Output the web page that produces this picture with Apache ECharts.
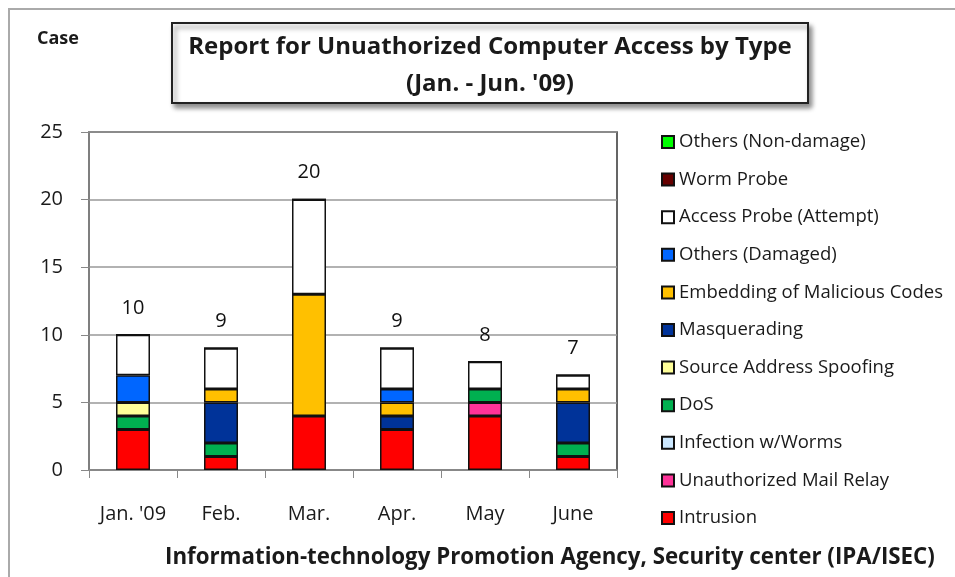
<!DOCTYPE html>
<html><head><meta charset="utf-8">
<script src="https://cdn.jsdelivr.net/npm/echarts@6/dist/echarts.min.js"></script>
<style>html,body{margin:0;padding:0;background:#fff}#c{width:955px;height:577px}</style>
</head><body><div id="c"></div>
<script>
const categories = ["Jan. '09", "Feb.", "Mar.", "Apr.", "May", "June"];
const yTicks = [0, 5, 10, 15, 20, 25];
// Stacking order bottom -> top
const intrusion        = [3, 1, 4, 3, 4, 1];
const mailRelay        = [0, 0, 0, 0, 1, 0];
const infectionWorms   = [0, 0, 0, 0, 0, 0];
const dos              = [1, 1, 0, 0, 1, 1];
const spoofing         = [1, 0, 0, 0, 0, 0];
const masquerading     = [0, 3, 0, 1, 0, 3];
const embedding        = [0, 1, 9, 1, 0, 1];
const othersDamaged    = [2, 0, 0, 1, 0, 0];
const accessProbe      = [3, 3, 7, 3, 2, 1];
const wormProbe        = [0, 0, 0, 0, 0, 0];
const othersNonDamage  = [0, 0, 0, 0, 0, 0];

const seriesDefs = [
  ["Intrusion", intrusion, "#ff0000"],
  ["Unauthorized Mail Relay", mailRelay, "#ff3399"],
  ["Infection w/Worms", infectionWorms, "#cce8ff"],
  ["DoS", dos, "#00b050"],
  ["Source Address Spoofing", spoofing, "#ffff99"],
  ["Masquerading", masquerading, "#003399"],
  ["Embedding of Malicious Codes", embedding, "#ffc000"],
  ["Others (Damaged)", othersDamaged, "#0066ff"],
  ["Access Probe (Attempt)", accessProbe, "#ffffff"],
  ["Worm Probe", wormProbe, "#660000"],
  ["Others (Non-damage)", othersNonDamage, "#00ff00"]
];
const totals = categories.map((_, i) => seriesDefs.reduce((s, d) => s + d[1][i], 0));

const FONT = "Open Sans";
const TXT = "#1a1a1a";
const chart = echarts.init(document.getElementById('c'));
const series = seriesDefs.map(([name, data, color]) => ({
  name, type: 'bar', stack: 'all', data, barWidth: 34,
  itemStyle: { color, borderColor: '#111', borderWidth: 1.5 },
  emphasis: { disabled: true }
}));
series.push({
  name: 'total', type: 'scatter', data: totals, symbolSize: 0, silent: true,
  itemStyle: { opacity: 1 },
  label: { show: true, position: 'top', distance: 17, fontSize: 20, color: '#111', fontFamily: FONT }
});

chart.setOption({
  animation: false,
  grid: { left: 89, right: 338, top: 132, bottom: 107, show: true, borderColor: '#333', borderWidth: 1.5, containLabel: false },
  xAxis: {
    type: 'category', data: categories,
    axisLine: { lineStyle: { color: '#888', width: 1.5 } },
    axisTick: { show: true, length: 8, lineStyle: { color: '#888' } },
    axisLabel: { interval: 0, hideOverlap: false, fontSize: 20, color: TXT, fontFamily: FONT, margin: 34 }
  },
  yAxis: {
    type: 'value', min: 0, max: 25, interval: 5,
    axisLine: { show: true, lineStyle: { color: '#888', width: 1.5 } },
    axisTick: { show: true, length: 8, lineStyle: { color: '#888' } },
    splitLine: { lineStyle: { color: '#999', width: 1.5 } },
    axisLabel: { fontSize: 20, color: TXT, fontFamily: FONT, margin: 26 }
  },
  legend: {
    orient: 'vertical', left: 656, top: 127,
    data: seriesDefs.map(d => d[0]).reverse(),
    icon: 'rect', itemWidth: 12, itemHeight: 12, itemGap: 17.6, itemTextGap: 5,
    textStyle: { fontSize: 18.5, color: TXT, fontFamily: FONT, lineHeight: 20 },
    selectedMode: false
  },
  series,
  graphic: [
    { type: 'rect', shape: { x: 9, y: 9, width: 1100, height: 700 }, style: { fill: 'none', stroke: '#aaa', lineWidth: 2 }, silent: true, z: -1 },
    { type: 'rect', shape: { x: 172, y: 23, width: 636, height: 80 },
      style: { fill: '#fff', stroke: '#222', lineWidth: 2, shadowBlur: 5, shadowOffsetX: 3, shadowOffsetY: 4, shadowColor: 'rgba(0,0,0,0.45)' }, z: 10 },
    { type: 'text', style: { x: 490, y: 47, text: 'Report for Unuathorized Computer Access by Type', fontSize: 24, fontWeight: 'bold', fill: TXT, fontFamily: FONT, align: 'center', verticalAlign: 'middle' }, z: 11 },
    { type: 'text', style: { x: 490, y: 84, text: "(Jan. - Jun. '09)", fontSize: 24, fontWeight: 'bold', fill: TXT, fontFamily: FONT, align: 'center', verticalAlign: 'middle' }, z: 11 },
    { type: 'text', style: { x: 37, y: 39, text: 'Case', fontSize: 18, fontWeight: 'bold', fill: TXT, fontFamily: FONT, verticalAlign: 'middle' } },
    { type: 'text', style: { x: 165, y: 558, text: 'Information-technology Promotion Agency, Security center (IPA/ISEC)', fontSize: 22.3, fontWeight: 'bold', fill: TXT, fontFamily: FONT, verticalAlign: 'middle' } }
  ]
});
</script></body></html>
